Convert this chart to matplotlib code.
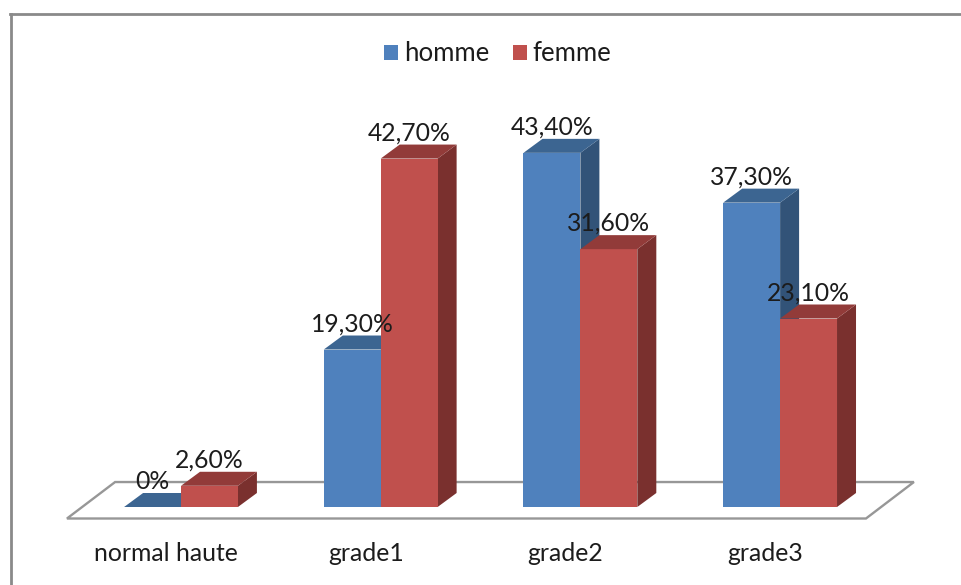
import numpy as np
import matplotlib
matplotlib.use('Agg')
from matplotlib import pyplot as plt

# Chart values (percent)
categories = ['normal haute', 'grade1', 'grade2', 'grade3']
homme = [0, 19.3, 43.4, 37.3]
femme = [2.6, 42.7, 31.6, 23.1]
homme_labels = ['0%', '19,30%', '43,40%', '37,30%']
femme_labels = ['2,60%', '42,70%', '31,60%', '23,10%']

plt.rcParams['font.family'] = ['Lato', 'DejaVu Sans']

# Scale of the picture: pixels for one category and for one percent
px_x = 199.7
px_y = 8.16
bar_width = 0.285
depth_x = 19 / px_x
depth_y = 14 / px_y
text_color = '#1c1c1c'

fig = plt.figure(figsize=(9.62, 5.85), dpi=100)
ax = fig.add_axes([10.5 / 962, 0, 1 - 10.5 / 962, (585 - 13.5) / 585])
ax.set_xlim((10.5 - 181) / px_x, (962 - 181) / px_x)
ax.set_ylim(-(585 - 507) / px_y, (507 - 13.5) / px_y)

# Frame: only the top and left lines show
for side in ['right', 'bottom']:
    ax.spines[side].set_visible(False)
for side in ['top', 'left']:
    ax.spines[side].set_color('#8a8a8a')
    ax.spines[side].set_linewidth(2.0)

# Floor of the 3D chart
ax.fill([-0.571, 3.43, 3.67, -0.33], [-1.41, -1.41, 3.06, 3.06],
        facecolor='white', edgecolor='#979797', linewidth=1.7, zorder=1)


def draw_series(x_left, values, front, top, side, label, z):
    ax.bar(x_left, values, bar_width, align='edge', color=front, label=label, zorder=z + 1)
    for x0, v in zip(x_left, values):
        x1 = x0 + bar_width
        # top face
        ax.fill([x0, x1, x1 + depth_x, x0 + depth_x], [v, v, v + depth_y, v + depth_y],
                color=top, linewidth=0, zorder=z + 1)
        # side face
        if v > 0:
            ax.fill([x1, x1 + depth_x, x1 + depth_x, x1], [0, depth_y, v + depth_y, v],
                    color=side, linewidth=0, zorder=z)


x = np.arange(len(categories))
draw_series(x - bar_width, homme, '#4f81bd', '#3c6591', '#325378', 'homme', 2)
draw_series(x, femme, '#c0504d', '#923b39', '#7a302e', 'femme', 4)

# Data labels sit about 26 px above the front top edge
for xi, v, s in zip(x - bar_width / 2, homme, homme_labels):
    ax.annotate(s, (xi, v), xytext=(0, 18.6), textcoords='offset points', ha='center', va='center',
                fontsize=17.8, color=text_color, zorder=10)
for xi, v, s in zip(x + bar_width / 2, femme, femme_labels):
    ax.annotate(s, (xi, v), xytext=(0, 18.6), textcoords='offset points', ha='center', va='center',
                fontsize=17.8, color=text_color, zorder=10)

# Category labels sit a bit left of the bar pairs, inside the axes box
ax.set_xticks(x - 0.075, categories)
ax.tick_params(axis='x', length=0, pad=-31, labelsize=17.8, labelcolor=text_color)
ax.set_yticks([])

ax.legend(loc='center', bbox_to_anchor=(0.512, 0.9295), ncol=2, frameon=False, fontsize=18.5,
          handlelength=0.54, handleheight=0.54, handletextpad=0.22, columnspacing=0.92,
          labelcolor=text_color)

fig.savefig('out.png', dpi=100)
plt.close(fig)
